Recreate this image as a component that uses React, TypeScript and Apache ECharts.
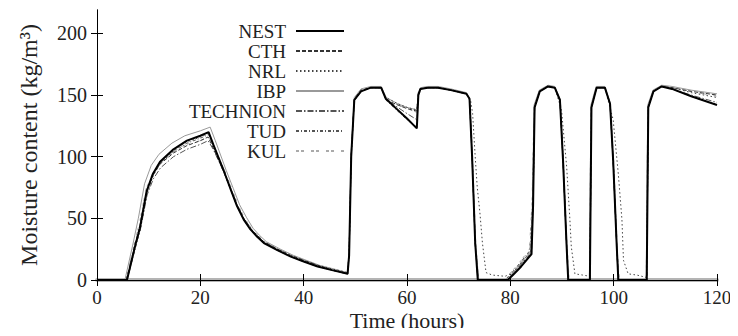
import React, { useEffect, useRef } from "react";
import * as echarts from "echarts";

const seriesNames = ["NEST", "CTH", "NRL", "IBP", "TECHNION", "TUD", "KUL"];
const xTicks = [0, 20, 40, 60, 80, 100, 120];
const yTicks = [0, 50, 100, 150, 200];

const nest = [
  [0, 0], [5.8, 0], [7.4, 28], [8.3, 42], [9.6, 72], [10.8, 86], [12.2, 96], [14.8, 106], [17.4, 113], [20, 117], [21.6, 120],
  [22.5, 110], [24.5, 89], [26, 72], [27.1, 60], [28.4, 49], [29.7, 41], [31, 35], [32.3, 30], [35, 24], [37.5, 19], [40, 15], [42.7, 11], [45.5, 8], [48.5, 5],
  [48.8, 20], [49.2, 100], [49.8, 146], [51.1, 153], [53, 156], [55, 156], [55.9, 147], [58.2, 138], [60, 131], [61.9, 123],
  [62.2, 150], [62.6, 155], [64, 156], [66, 156], [68.5, 154], [71.5, 151], [72.1, 147], [72.6, 100], [73.2, 30], [73.7, 0],
  [79.5, 0], [80.5, 4], [82.1, 11], [84.1, 21], [84.4, 60], [84.7, 140], [85.7, 153], [87.3, 157], [88.6, 156], [89.6, 146], [90.2, 97], [90.9, 27], [91.2, 0],
  [95.4, 0], [95.7, 140], [96.7, 156], [98.3, 156], [99.3, 143], [99.9, 97], [100.6, 27], [100.9, 0],
  [106.4, 0], [106.7, 140], [107.7, 153], [109.3, 157], [111.3, 155], [115, 149], [120, 142],
];
const cth = [
  [0, 0], [5.7, 0], [7.3, 28], [8.3, 44], [9.6, 72], [10.8, 85], [12.2, 94], [14.8, 103], [17.4, 109], [20, 113], [21.5, 116],
  [22.5, 107], [24.5, 88], [26, 72], [27.1, 60], [28.4, 50], [29.7, 42], [31, 36], [32.3, 31], [35, 25], [37.5, 20], [40, 16], [42.7, 12], [45.5, 8], [48.5, 5],
  [48.8, 22], [49.2, 102], [49.8, 147], [51.1, 154], [53, 156], [55, 156], [56, 146], [58.2, 142], [60, 139], [61.9, 137],
  [62.2, 152], [62.6, 155], [64, 156], [66, 156], [68.5, 154], [71.5, 151], [72.1, 146], [72.6, 100], [73.2, 28], [73.8, 0],
  [79.5, 0], [80.5, 5], [82.1, 12], [84, 22], [84.4, 62], [84.7, 140], [85.7, 153], [87.3, 157], [88.6, 156], [89.6, 146], [90.2, 96], [90.9, 26], [91.2, 0],
  [95.4, 0], [95.7, 141], [96.7, 156], [98.3, 156], [99.3, 142], [99.9, 96], [100.6, 26], [100.9, 0],
  [106.4, 0], [106.7, 141], [107.7, 153], [109.3, 157], [111.3, 156], [115, 153], [120, 150],
];
const nrl = [
  [0, 0], [5.8, 0], [7.4, 27], [8.4, 42], [9.7, 71], [10.9, 85], [12.3, 95], [14.8, 105], [17.4, 112], [20, 116], [21.6, 119],
  [22.5, 110], [24.5, 90], [26, 73], [27.1, 61], [28.4, 50], [29.7, 42], [31, 36], [32.3, 31], [35, 25], [37.5, 20], [40, 16], [42.7, 12], [45.5, 9], [48.5, 6],
  [48.8, 22], [49.2, 100], [49.8, 145], [51.1, 153], [53, 156], [55, 156], [55.9, 148], [58.2, 143], [60, 140], [61.9, 138],
  [62.2, 151], [62.6, 155], [64, 156], [66, 156], [68.5, 154], [71.5, 151], [72.3, 146], [72.7, 135], [73.2, 100], [73.6, 75], [74.1, 55], [74.6, 30], [75.3, 6], [76.5, 4],
  [79, 3], [80.5, 6], [82.1, 14], [84.1, 24], [84.4, 62], [84.7, 140], [85.7, 153], [87.3, 157], [88.6, 156], [89.9, 138], [90.9, 92], [91.5, 51], [91.8, 27], [92.5, 5], [94, 4],
  [95.4, 3], [95.7, 140], [96.7, 156], [98.3, 156], [99.9, 130], [100.9, 86], [101.6, 49], [101.9, 16], [102.8, 5], [104.5, 4],
  [106.4, 2], [106.7, 140], [107.7, 153], [109.3, 157], [111.3, 156], [115, 152], [120, 148],
];
const ibp = [
  [0, 0], [5.4, 0], [7, 30], [8, 50], [9.2, 78], [10.5, 93], [12, 102], [14.5, 111], [17, 117], [20, 121], [21.9, 124],
  [22.9, 113], [25, 89], [26.4, 74], [27.6, 61], [28.9, 51], [30.2, 42], [31.5, 36], [32.8, 31], [35.5, 25], [38, 20], [40.5, 16], [43, 12], [45.8, 9], [48.5, 6],
  [48.8, 24], [49.2, 104], [49.8, 148], [51.1, 155], [53, 157], [55, 157], [56, 148], [58.2, 143], [60, 140], [61.9, 138],
  [62.2, 152], [62.6, 156], [64, 157], [66, 157], [68.5, 155], [71.5, 152], [72.1, 147], [72.6, 102], [73.2, 32], [73.9, 0],
  [79.3, 0], [80.5, 6], [82.1, 14], [83.9, 23], [84.3, 64], [84.6, 142], [85.6, 154], [87.3, 158], [88.6, 157], [89.6, 147], [90.2, 98], [90.9, 28], [91.3, 0],
  [95.3, 0], [95.6, 142], [96.6, 157], [98.3, 157], [99.3, 144], [99.9, 98], [100.6, 28], [101, 0],
  [106.3, 0], [106.6, 142], [107.6, 154], [109.3, 158], [111.3, 157], [115, 154], [120, 151],
];
const technion = [
  [0, 0], [5.8, 0], [7.4, 27], [8.4, 41], [9.7, 69], [10.9, 82], [12.3, 91], [14.8, 100], [17.4, 106], [20, 110], [21.5, 113],
  [22.5, 106], [24.5, 88], [26, 73], [27.1, 61], [28.4, 50], [29.7, 42], [31, 36], [32.3, 31], [35, 24], [37.5, 19], [40, 15], [42.7, 11], [45.5, 8], [48.5, 5],
  [48.8, 21], [49.2, 101], [49.8, 146], [51.1, 153], [53, 156], [55, 156], [55.9, 147], [58.2, 140], [60, 135], [61.9, 130],
  [62.2, 151], [62.6, 155], [64, 156], [66, 156], [68.5, 154], [71.5, 151], [72.1, 147], [72.6, 100], [73.2, 30], [73.7, 0],
  [79.5, 0], [80.5, 5], [82.1, 13], [84.1, 22], [84.4, 61], [84.7, 140], [85.7, 153], [87.3, 157], [88.6, 156], [89.6, 146], [90.2, 97], [90.9, 27], [91.2, 0],
  [95.4, 0], [95.7, 140], [96.7, 156], [98.3, 156], [99.3, 143], [99.9, 97], [100.6, 27], [100.9, 0],
  [106.4, 0], [106.7, 140], [107.7, 153], [109.3, 157], [111.3, 155], [115, 150], [120, 144],
];
const tud = [
  [0, 0], [5.8, 0], [7.5, 27], [8.4, 42], [9.7, 71], [10.9, 85], [12.3, 95], [14.8, 104], [17.4, 111], [20, 115], [21.6, 118],
  [22.5, 109], [24.5, 89], [26, 72], [27.1, 60], [28.4, 49], [29.7, 41], [31, 35], [32.3, 30], [35, 24], [37.5, 19], [40, 15], [42.7, 11], [45.5, 8], [48.5, 5],
  [48.8, 20], [49.2, 100], [49.8, 146], [51.1, 153], [53, 156], [55, 156], [55.9, 146], [58.2, 137], [60, 130], [61.9, 124],
  [62.2, 150], [62.6, 155], [64, 156], [66, 156], [68.5, 154], [71.5, 151], [72.1, 147], [72.6, 100], [73.2, 30], [73.7, 0],
  [79, 0], [80.5, 7], [82.1, 15], [83.8, 24], [84.3, 62], [84.7, 140], [85.7, 153], [87.3, 157], [88.6, 156], [89.6, 146], [90.2, 97], [90.9, 27], [91.2, 0],
  [95.4, 0], [95.7, 140], [96.7, 156], [98.3, 156], [99.3, 143], [99.9, 97], [100.6, 27], [100.9, 0],
  [106.4, 0], [106.7, 140], [107.7, 153], [109.3, 157], [111.3, 155], [115, 149], [120, 142],
];
const kul = [
  [0, 0], [5.6, 0], [7.2, 29], [8.2, 46], [9.5, 74], [10.7, 86], [12.1, 95], [14.7, 104], [17.3, 110], [20, 113], [21.6, 116],
  [22.6, 108], [24.7, 89], [26.2, 73], [27.3, 61], [28.6, 50], [29.9, 42], [31.2, 36], [32.5, 31], [35.2, 25], [37.7, 20], [40.2, 16], [42.9, 12], [45.6, 9], [48.5, 6],
  [48.8, 23], [49.2, 103], [49.8, 147], [51.1, 154], [53, 156], [55, 156], [56, 147], [58.2, 142], [60, 139], [61.9, 136],
  [62.2, 152], [62.6, 155], [64, 156], [66, 156], [68.5, 154], [71.5, 151], [72.2, 146], [72.7, 100], [73.3, 30], [73.9, 0],
  [78.8, 0], [80.5, 8], [82.1, 16], [83.7, 25], [84.2, 64], [84.6, 141], [85.6, 153], [87.3, 157], [88.6, 156], [89.7, 145], [90.3, 96], [91, 26], [91.4, 0],
  [95.3, 0], [95.6, 141], [96.6, 156], [98.3, 156], [99.4, 142], [100, 96], [100.7, 26], [101.1, 0],
  [106.3, 0], [106.6, 141], [107.6, 153], [109.3, 157], [111.3, 156], [115, 153], [120, 149],
];

const seriesData = [nest, cth, nrl, ibp, technion, tud, kul];
const lineStyles: any[] = [
  { color: "#000", width: 2, type: "solid" },
  { color: "#333", width: 1, type: [4, 2] },
  { color: "#444", width: 1, type: [1.5, 2.5] },
  { color: "#999", width: 1, type: "solid" },
  { color: "#555", width: 1, type: [6, 2, 1.5, 2] },
  { color: "#555", width: 1, type: [3, 2, 1, 2] },
  { color: "#aaa", width: 1, type: [3, 2, 3, 7] },
];

const FONT = "'Liberation Serif', 'Times New Roman', serif";

export default function App() {
  const ref = useRef<HTMLDivElement>(null);
  useEffect(() => {
    if (!ref.current) return;
    const chart = echarts.init(ref.current, undefined, { renderer: "svg" });
    const hiddenAxisCommon = {
      axisLabel: { show: false },
      splitLine: { show: false },
      axisLine: { show: true, lineStyle: { color: "#000", width: 1 } },
    };
    chart.setOption({
      animation: false,
      backgroundColor: "#fff",
      grid: { left: 97, right: 21, top: 10, bottom: 56, containLabel: false },
      legend: {
        data: seriesNames,
        orient: "vertical",
        align: "right",
        right: 393,
        top: 21,
        padding: 0,
        itemWidth: 48,
        itemHeight: 12,
        itemGap: 0,
        itemStyle: { opacity: 0 },
        textStyle: {
          fontFamily: FONT,
          fontSize: 19,
          color: "#222",
          lineHeight: 20,
          padding: [0, 5, 0, 0],
        },
      },
      xAxis: [
        {
          type: "value",
          min: 0,
          max: 120,
          interval: 20,
          name: "Time (hours)",
          nameLocation: "middle",
          nameGap: 30,
          nameMoveOverlap: false,
          nameTextStyle: { fontFamily: FONT, fontSize: 22, color: "#222", lineHeight: 20 },
          axisLine: { show: true, onZero: false, lineStyle: { color: "#b4b4b4", width: 4 } },
          axisTick: { show: true, inside: true, length: 6, lineStyle: { color: "#000" } },
          axisLabel: { fontFamily: FONT, fontSize: 19, color: "#222", margin: 8, lineHeight: 18 },
          splitLine: { show: false },
        },
        {
          type: "value",
          position: "top",
          min: 0,
          max: 120,
          interval: 20,
          axisTick: { show: true, inside: true, length: 6, lineStyle: { color: "#000" } },
          ...hiddenAxisCommon,
        },
      ],
      yAxis: [
        {
          type: "value",
          min: 0,
          max: 219,
          name: "Moisture content (kg/m³)",
          nameLocation: "middle",
          nameGap: 56,
          nameMoveOverlap: false,
          nameTextStyle: { fontFamily: FONT, fontSize: 24, color: "#222" },
          axisLine: { show: true, onZero: false, lineStyle: { color: "#000", width: 1 } },
          axisTick: { show: true, inside: true, length: 6, customValues: yTicks, lineStyle: { color: "#000" } },
          axisLabel: { fontFamily: FONT, fontSize: 20, color: "#222", margin: 10, customValues: yTicks },
          splitLine: { show: false },
        },
        {
          type: "value",
          position: "right",
          min: 0,
          max: 219,
          axisTick: { show: true, inside: true, length: 6, customValues: yTicks, lineStyle: { color: "#000" } },
          ...hiddenAxisCommon,
        },
      ],
      series: seriesNames.map((name, i) => ({
        name,
        type: "line",
        xAxisIndex: 0,
        yAxisIndex: 0,
        data: seriesData[i],
        symbol: "none",
        showSymbol: false,
        lineStyle: lineStyles[i],
        itemStyle: { color: lineStyles[i].color },
        z: 10 - i + (i === 0 ? 10 : 0),
      })),
    });
    return () => chart.dispose();
  }, []);
  return <div ref={ref} style={{ width: 738, height: 336, margin: -8 }} />;
}
